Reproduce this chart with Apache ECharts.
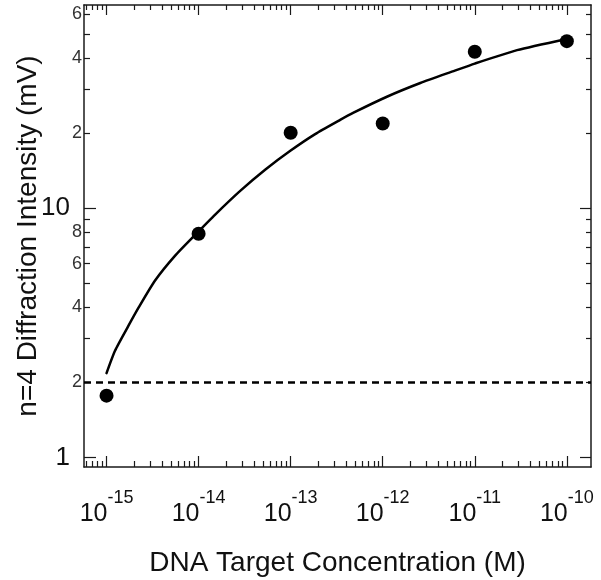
<!DOCTYPE html>
<html>
<head>
<meta charset="utf-8">
<script src="https://cdn.jsdelivr.net/npm/echarts@6/dist/echarts.min.js"></script>
<style>
html,body{margin:0;padding:0;background:#fff;}
#chart{width:601px;height:580px;}
</style>
</head>
<body>
<div id="chart"></div>
<script>
// ---- data ----
var concentrations = [1e-15, 1e-14, 1e-13, 1e-12, 1e-11, 1e-10];
var intensities    = [1.77, 7.9, 20.1, 21.9, 42.5, 46.9];

var fitX = [1.0e-15, 1.236e-15, 1.726e-15, 2.218e-15, 3.365e-15, 5.56e-15, 9.16e-15,
            1.514e-14, 2.83e-14, 5.28e-14, 1.0e-13, 1.845e-13, 3.45e-13, 4.82e-13,
            1.11e-12, 2.56e-12, 5.89e-12, 1.0e-11, 2.88e-11, 1.0e-10];
var fitY = [2.18, 2.68, 3.37, 3.98, 5.13, 6.46, 7.82,
            9.44, 11.75, 14.29, 17.06, 19.86, 22.65, 24.21,
            28.05, 31.84, 35.56, 38.11, 43.15, 47.86];

var thresholdY = 2;

var xMajorTicks = [1e-15, 1e-14, 1e-13, 1e-12, 1e-11, 1e-10];
var xDecades = [1e-16, 1e-15, 1e-14, 1e-13, 1e-12, 1e-11, 1e-10];
var mantissas = [2, 3, 4, 5, 6, 7, 8, 9];
var yMajorTicks = [1, 10];
var yMinorTicks = [2, 3, 4, 5, 6, 7, 8, 9, 20, 30, 40, 50, 60];
var yTickLabels = [1, 2, 4, 6, 8, 10, 20, 40, 60];

var xMin = 5.69e-16, xMax = 1.83e-10;
var yMin = 0.915, yMax = 65.5;

// ---- build ----
var xMinorTicks = [];
xDecades.forEach(function (d) {
  mantissas.forEach(function (m) {
    var v = m * d;
    if (v > xMin && v < xMax) xMinorTicks.push(v);
  });
});

var fitData = fitX.map(function (x, i) { return [x, fitY[i]]; });
var pointData = concentrations.map(function (x, i) { return [x, intensities[i]]; });

var FONT = 'Liberation Sans, Arial, sans-serif';
var AXC = '#1a1a1a';

function xAxisDef(pos, ticks, len, showLine, showLabel) {
  var a = {
    type: 'log', position: pos, min: xMin, max: xMax,
    gridIndex: 0,
    axisLine: { show: showLine, onZero: false, lineStyle: { color: AXC, width: 1.5 } },
    axisTick: { show: true, inside: true, length: len, customValues: ticks,
                lineStyle: { color: AXC, width: 1.2 } },
    splitLine: { show: false },
    minorTick: { show: false },
    axisLabel: { show: false }
  };
  if (showLabel) {
    a.axisLabel = {
      show: true, customValues: xMajorTicks, margin: 22,
      formatter: function (v) {
        var e = Math.round(Math.log10(v));
        return '{b|10}{s|' + e + '}';
      },
      rich: {
        b: { fontFamily: FONT, fontSize: 25, color: '#111', lineHeight: 38, verticalAlign: 'bottom' },
        s: { fontFamily: FONT, fontSize: 18, color: '#111', lineHeight: 38, verticalAlign: 'top', padding: [0, 0, 6, 0] }
      }
    };
    a.name = 'DNA Target Concentration (M)';
    a.nameLocation = 'middle';
    a.nameGap = 82;
    a.nameMoveOverlap = false;
    a.nameTextStyle = { fontFamily: FONT, fontSize: 28, color: '#111' };
  }
  return a;
}

function yAxisDef(pos, ticks, len, showLine, showLabel) {
  var a = {
    type: 'log', position: pos, min: yMin, max: yMax,
    gridIndex: 0,
    axisLine: { show: showLine, onZero: false, lineStyle: { color: AXC, width: 1.5 } },
    axisTick: { show: true, inside: true, length: len, customValues: ticks,
                lineStyle: { color: AXC, width: 1.2 } },
    splitLine: { show: false },
    minorTick: { show: false },
    axisLabel: { show: false }
  };
  if (showLabel) {
    a.axisLabel = {
      show: true, customValues: yTickLabels, margin: 2,
      formatter: function (v) {
        if (v === 1 || v === 10) return '{big|' + v + '}';
        return '{small|' + (v < 10 ? v : v / 10) + '}';
      },
      rich: {
        big: { fontFamily: FONT, fontSize: 26, color: '#111', padding: [0, 12, 0, 0] },
        small: { fontFamily: FONT, fontSize: 18, color: '#333' }
      }
    };
    a.name = 'n=4 Diffraction Intensity (mV)';
    a.nameLocation = 'middle';
    a.nameGap = 42;
    a.nameMoveOverlap = false;
    a.nameTextStyle = { fontFamily: FONT, fontSize: 28, color: '#111' };
  }
  return a;
}

var chart = echarts.init(document.getElementById('chart'), null, { renderer: 'canvas' });
chart.setOption({
  animation: false,
  backgroundColor: '#fff',
  grid: { left: 84, top: 5, width: 507, height: 462, containLabel: false, outerBoundsMode: 'none' },
  xAxis: [
    xAxisDef('bottom', xMajorTicks, 11, true, true),
    xAxisDef('bottom', xMinorTicks, 6, false, false),
    xAxisDef('top', xMajorTicks, 10, true, false),
    xAxisDef('top', xMinorTicks, 5, false, false)
  ],
  yAxis: [
    yAxisDef('left', yMajorTicks, 12, true, true),
    yAxisDef('left', yMinorTicks, 6, false, false),
    yAxisDef('right', yMajorTicks, 11, true, false),
    yAxisDef('right', yMinorTicks, 5, false, false)
  ],
  series: [
    {
      type: 'line', xAxisIndex: 0, yAxisIndex: 0,
      data: fitData, showSymbol: false, smooth: 0.2,
      lineStyle: { color: '#000', width: 2.5, join: 'round', cap: 'round' },
      silent: true,
      markLine: {
        silent: true, symbol: 'none', label: { show: false },
        lineStyle: { color: '#000', width: 2.5, type: [7, 5] },
        data: [{ yAxis: thresholdY }]
      },
      z: 3
    },
    {
      type: 'scatter', xAxisIndex: 0, yAxisIndex: 0,
      data: pointData, symbol: 'circle', symbolSize: 14,
      itemStyle: { color: '#000', opacity: 1 }, z: 4
    }
  ]
});
</script>
</body>
</html>
